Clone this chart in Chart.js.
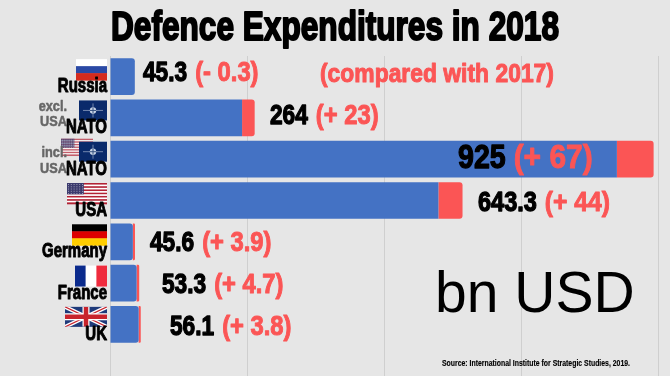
<!DOCTYPE html>
<html><head><meta charset="utf-8">
<script src="https://cdn.jsdelivr.net/npm/chart.js@4"></script>
<style>html,body{margin:0;padding:0;background:#e6e6e6;overflow:hidden}canvas{display:block}</style>
</head><body><div style="width:670px;height:376px;position:relative"><canvas id="c" width="670" height="376"></canvas></div>
<script>
const categories = ["Russia","NATO","NATO","USA","Germany","France","UK"];
const baseValues = [45.3,241,925,599.3,41.7,48.6,52.3];
const increaseValues = [0,23,67,44,3.9,4.7,3.8];
const valueLabels = ["45.3","264","925","643.3","45.6","53.3","56.1"];
const changeLabels = ["(- 0.3)","(+ 23)","(+ 67)","(+ 44)","(+ 3.9)","(+ 4.7)","(+ 3.8)"];
const titleText = "Defence Expenditures in 2018";
const noteText = "(compared with 2017)";
const unitText = "bn USD";
const sourceText = "Source: International Institute for Strategic Studies, 2019.";

const BLUE="#4472c4", RED="#fb5555", HEAVY='"Liberation Sans",Arimo,sans-serif';
const labelLayout=[[143,-3,27],[270,-1,27],[458,-1,34],[478,3,28],[150,2,27],[162,2,27],[170,3,27]];

// condensed heavy text: a bold face squeezed horizontally and thickened with a stroke
function heavyText(ctx,t,x,y,size,color,stroke,sx,align){
  ctx.save();
  ctx.font=`bold ${size}px ${HEAVY}`;ctx.fillStyle=color;ctx.strokeStyle=color;ctx.lineWidth=stroke;
  ctx.textAlign=align||'left';ctx.textBaseline='middle';ctx.lineJoin='round';
  ctx.translate(x,y);ctx.scale(sx,1);
  ctx.strokeText(t,0,0);ctx.fillText(t,0,0);
  ctx.restore();
}
function textWidth(ctx,t,size,sx){ctx.save();ctx.font=`bold ${size}px ${HEAVY}`;const w=ctx.measureText(t).width*sx;ctx.restore();return w}
function stripes(ctx,x,y,w,h,cols){cols.forEach((c,i)=>{ctx.fillStyle=c;ctx.fillRect(x,y+i*h/cols.length,w,h/cols.length+.5)})}
function usFlag(ctx,x,y,w,h){
  for(let i=0;i<13;i++){ctx.fillStyle=i%2?'#fff':'#b22234';ctx.fillRect(x,y+i*h/13,w,h/13+.3)}
  ctx.fillStyle='#3c3b6e';ctx.fillRect(x,y,w*.42,h*.54);
  ctx.fillStyle='rgba(255,255,255,.5)';
  for(let r=0;r<5;r++)for(let q=0;q<6;q++)ctx.fillRect(x+1+q*w*.42/6,y+1+r*h*.54/5,1,1);
}
function natoFlag(ctx,x,y,w,h){
  ctx.fillStyle='#0a2a6b';ctx.fillRect(x,y,w,h);
  const cx=x+w/2,cy=y+h/2;ctx.strokeStyle='#dfe6f2';ctx.lineWidth=.5;
  ctx.beginPath();ctx.moveTo(x+4,cy);ctx.lineTo(x+w-4,cy);ctx.moveTo(cx,y+3);ctx.lineTo(cx,y+h-3);ctx.stroke();
  ctx.fillStyle='#c9d4e6';ctx.beginPath();ctx.arc(cx,cy,3.2,0,7);ctx.fill();
  ctx.fillStyle='#34507f';ctx.fillRect(cx-.5,cy-3,1,6);ctx.fillRect(cx-3,cy-.5,6,1);
}
function ukFlag(ctx,x,y,w,h){
  ctx.fillStyle='#1f3a7a';ctx.fillRect(x,y,w,h);
  ctx.save();ctx.beginPath();ctx.rect(x,y,w,h);ctx.clip();
  const L=(a,b,c,d,col,lw)=>{ctx.strokeStyle=col;ctx.lineWidth=lw;ctx.beginPath();ctx.moveTo(a,b);ctx.lineTo(c,d);ctx.stroke()};
  L(x,y,x+w,y+h,'#fff',4);L(x+w,y,x,y+h,'#fff',4);L(x,y,x+w,y+h,'#c8232c',1.3);L(x+w,y,x,y+h,'#c8232c',1.3);
  L(x+w/2,y,x+w/2,y+h,'#fff',7);L(x,y+h/2,x+w,y+h/2,'#fff',7);
  L(x+w/2,y,x+w/2,y+h,'#c8232c',4.5);L(x,y+h/2,x+w,y+h/2,'#c8232c',4.5);ctx.restore();
}

const overlay={id:'overlay',
 beforeDatasetsDraw(chart){
  const {ctx,scales:{x,y},chartArea}=chart;
  const top=i=>y.getPixelForValue(i)-18.5;
  ctx.save();
  // gridlines run on to the bottom edge of the picture
  ctx.strokeStyle='#cfcfcf';ctx.lineWidth=1;
  x.ticks.forEach(t=>{const p=Math.round(x.getPixelForValue(t.value))+.5;ctx.beginPath();ctx.moveTo(p,chartArea.bottom);ctx.lineTo(p,376);ctx.stroke()});
  // flags, anchored to each category row
  stripes(ctx,76,top(0)+1,31,21,['#ffffff','#2a49a5','#d52b1e']);
  ctx.globalAlpha=.7;usFlag(ctx,61,top(2)-2,32,17);ctx.globalAlpha=1;
  stripes(ctx,72,top(4)+1,35,21,['#000000','#dd0000','#ffce00']);
  ctx.fillStyle='#fff';ctx.fillRect(75,top(5)+1,32,21);ctx.fillStyle='#0a2a8c';ctx.fillRect(75,top(5)+1,10.6,21);ctx.fillStyle='#ef2b3d';ctx.fillRect(96.4,top(5)+1,10.6,21);
  ukFlag(ctx,65,top(6)+1,42,20);
  usFlag(ctx,67,top(3)+1,40,21);
  // side notes for the two NATO rows
  [["excl.",1,-11],["USA",1,4],["incl.",2,-6],["USA",2,10]].forEach(n=>
    heavyText(ctx,n[0],67,y.getPixelForValue(n[1])+n[2],15,'#666',.5,.85,'right'));
  natoFlag(ctx,79,top(1)+1,28,20);
  natoFlag(ctx,79,top(2)+1,28,20);
  // category labels
  categories.forEach((c,i)=>heavyText(ctx,c,107,y.getPixelForValue(i)+10,20,'#000',1,.75,'right'));
  ctx.restore();
 },
 afterDatasetsDraw(chart){
  const {ctx,scales:{y}}=chart;
  ctx.save();
  categories.forEach((c,i)=>{
    const [lx,dy,sz]=labelLayout[i], yy=y.getPixelForValue(i)+dy, sx=.84;
    heavyText(ctx,valueLabels[i],lx,yy,sz,'#000',1.3,sx);
    heavyText(ctx,changeLabels[i],lx+textWidth(ctx,valueLabels[i],sz,sx)+8,yy,sz,RED,1,.88);
  });
  heavyText(ctx,noteText,320,75,26,RED,1,.88);
  const tf=40, tsx=448/textWidth(ctx,titleText,tf,1);
  heavyText(ctx,titleText,111,29,tf,'#000',2,tsx);
  ctx.fillStyle='#000';ctx.font='57px "Liberation Sans",sans-serif';ctx.textAlign='left';ctx.textBaseline='alphabetic';
  ctx.fillText(unitText,435,312);
  const sf=8.5, ssx=188/textWidth(ctx,sourceText,sf,1);
  heavyText(ctx,sourceText,442,364,sf,'#000',.15,ssx);
  ctx.restore();
 }};

new Chart(document.getElementById('c'),{
 type:'bar',
 data:{labels:categories,datasets:[
  {data:baseValues,backgroundColor:BLUE,borderSkipped:false,
   borderRadius:c=>c.parsed.x<100?{topRight:3,bottomRight:3,topLeft:0,bottomLeft:0}:0,
   barPercentage:.89,categoryPercentage:1},
  {data:increaseValues,backgroundColor:RED,borderSkipped:false,
   borderRadius:{topRight:3,bottomRight:3,topLeft:0,bottomLeft:0},
   barPercentage:.89,categoryPercentage:1}
 ]},
 plugins:[overlay],
 options:{indexAxis:'y',responsive:false,animation:false,
  layout:{padding:{left:0,right:12,top:56,bottom:31}},
  plugins:{legend:{display:false},tooltip:{enabled:false},title:{display:false}},
  scales:{
   x:{stacked:true,min:0,max:1000,ticks:{display:false,stepSize:250},
      grid:{color:'#cfcfcf',drawTicks:false},border:{display:false}},
   y:{stacked:true,afterFit(s){s.width=110},grid:{display:false},border:{display:false},
      ticks:{display:false}}
  }}
});
</script></body></html>
